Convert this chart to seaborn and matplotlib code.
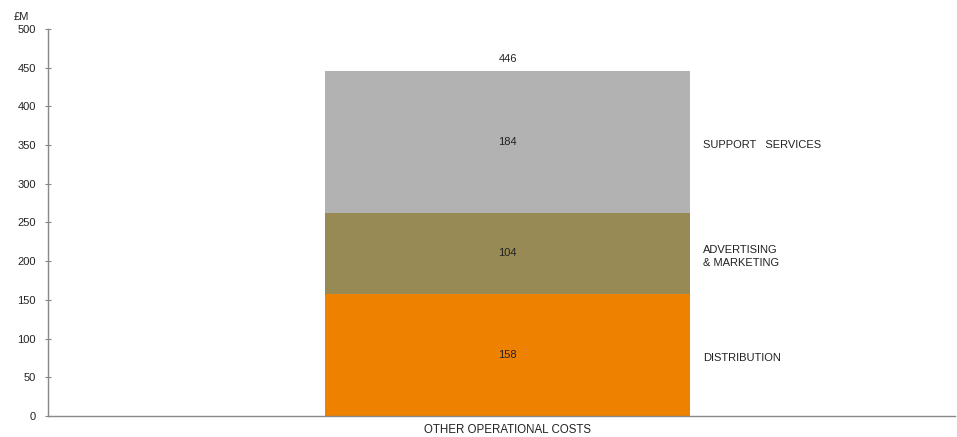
import matplotlib
matplotlib.use("Agg")
import matplotlib.pyplot as plt
import seaborn as sns
import pandas as pd
import numpy as np

# Cost breakdown (£M)
category = ["OTHER OPERATIONAL COSTS"]
segments = ["DISTRIBUTION", "ADVERTISING\n& MARKETING", "SUPPORT   SERVICES"]
values = [158, 104, 184]
colors = ["#EE8100", "#988A55", "#B2B2B2"]
y_ticks = [0, 50, 100, 150, 200, 250, 300, 350, 400, 450, 500]

sns.set_theme(style="white")
plt.rcParams["font.family"] = ["Liberation Sans", "DejaVu Sans"]

fig = plt.figure(figsize=(9.57, 4.37), dpi=100)
ax = fig.add_axes([0.050, 0.048, 0.948, 0.886])

bottom = 0
for seg, val, col in zip(segments, values, colors):
    df = pd.DataFrame({"cat": category, "val": [val]})
    sns.barplot(data=df, x="cat", y="val", color=col, saturation=1,
                width=0.402, bottom=bottom, ax=ax, edgecolor="none", linewidth=0)
    ax.text(0, bottom + val / 2, str(val), ha="center", va="center",
            fontsize=8, color="#222222")
    # segment name to the right of the bar, nudged slightly below centre
    ax.text(0.215, bottom + val / 2 - 4, seg, ha="left", va="center",
            fontsize=8, color="#222222", linespacing=1.45)
    bottom += val

total = sum(values)
ax.text(0, total + 15, str(total), ha="center", va="center", fontsize=8, color="#222222")

ax.set_xlim(-0.507, 0.493)
ax.set_ylim(0, 500)
ax.set_yticks(y_ticks)
ax.set_yticklabels([str(t) for t in y_ticks], fontsize=8, color="#222222")
ax.set_xticks([0])
ax.set_xticklabels(category, fontsize=8.3, color="#222222")
ax.set_xlabel("")
ax.set_ylabel("")

for side in ["top", "right"]:
    ax.spines[side].set_visible(False)
for side in ["left", "bottom"]:
    ax.spines[side].set_color("#888888")
    ax.spines[side].set_linewidth(1.0)

ax.tick_params(axis="y", which="both", direction="inout", length=5, width=0.8,
               color="#888888", left=True, pad=6)
ax.tick_params(axis="x", length=0, pad=6)

fig.text(0.014, 0.950, "£M", ha="left", va="bottom", fontsize=8, color="#222222")

fig.savefig("out.png", dpi=100, facecolor="white")
